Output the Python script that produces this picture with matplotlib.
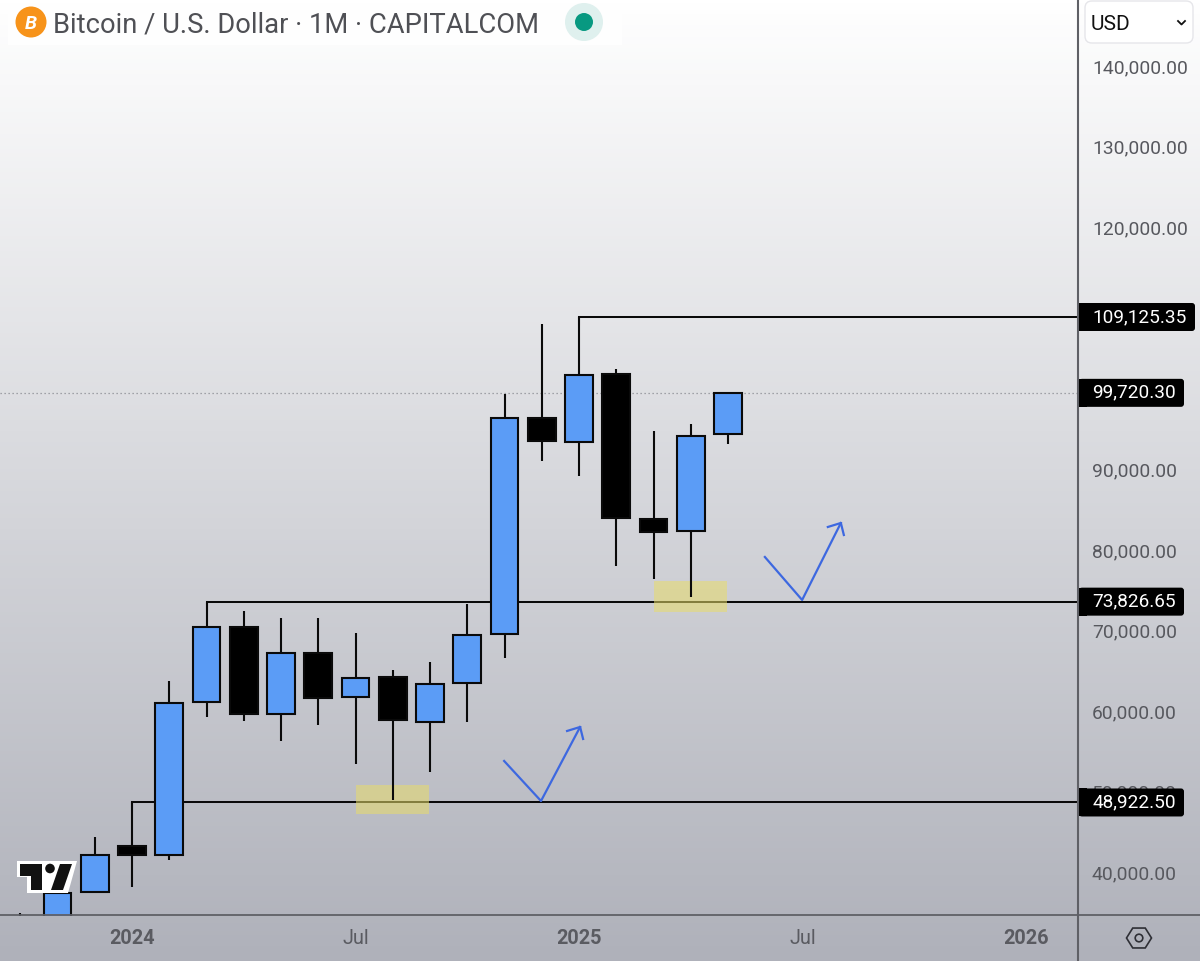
import numpy as np
import matplotlib
matplotlib.use("Agg")
import matplotlib.pyplot as plt
from matplotlib.patches import Circle, Rectangle, FancyBboxPatch, Polygon
from matplotlib.transforms import ScaledTranslation

plt.rcParams['font.family'] = 'Roboto'

# monthly candles, month index 0 = Jan 2024
months = list(range(-3, 17))
opens = [27000, 33000, 37840, 43540, 42425, 61385, 70680, 59950, 67460, 62000, 64480, 58910, 63740, 69810, 96580, 93600, 102030, 84060, 82580, 94600]
highs = [35221, 36500, 44660, 48922, 63990, 73826, 72664, 71800, 71800, 69940, 65350, 66340, 73530, 99550, 108230, 109125, 102650, 94970, 95840, 99720]
lows = [26500, 32000, 37720, 38460, 41810, 59530, 59030, 56550, 58540, 53700, 49240, 52710, 58910, 66840, 91250, 89390, 78240, 76630, 74400, 93360]
closes = [30000, 37720, 42425, 42425, 61263, 70680, 59900, 67460, 61880, 64360, 59110, 63620, 69690, 96580, 93730, 101910, 84190, 82450, 94350, 99720]

price_ticks = [40000, 50000, 60000, 70000, 80000, 90000, 110000, 120000, 130000, 140000]
date_ticks = [0, 6, 12, 18, 24]
date_labels = ['2024', 'Jul', '2025', 'Jul', '2026']
date_bold = [True, False, True, False, True]

# horizontal levels: (first month, price)
level_starts = [0, 2, 12]
level_prices = [48922.50, 73826.65, 109125.35]
last_price = 99720.30
tag_prices = [109125.35, 99720.30, 73826.65, 48922.50]
tag_texts = ['109,125.35', '99,720.30', '73,826.65', '48,922.50']

# yellow zones
zone_months = [7, 15]
zone_low = [47497, 72545]
zone_high = [51093, 76389]

# hand drawn arrows
arrow1_x = [9.99, 10.98, 12.03]
arrow1_y = [54069, 49109, 58285]
head1_x = [11.68, 12.03, 12.11]
head1_y = [57789, 58285, 56797]
arrow2_x = [16.99, 17.99, 19.03]
arrow2_y = [79365, 74033, 83581]
head2_x = [18.68, 19.03, 19.11]
head2_y = [83085, 83581, 82093]

BLUE = '#5b9cf6'
W, H = 1200, 962
fig = plt.figure(figsize=(W / 100, H / 100), dpi=100)

# background gradient
bg = fig.add_axes([0, 0, 1, 1], zorder=0)
bg.axis('off')
top = np.array([255, 255, 255]) / 255
bottom = np.array([175, 177, 186]) / 255
t = np.linspace(0, 1, 256)[:, None, None]
grad = top * (1 - t) + bottom * t
bg.imshow(grad, aspect='auto', extent=[0, 1, 0, 1])

ax = fig.add_axes([0, (H - 917) / H, 1078 / W, 917 / H], zorder=1)
ax.patch.set_alpha(0)
ax.set_xlim(-132 / 37.25, (1078 - 132) / 37.25)
ax.set_ylim(109125 - 599 / 0.008064, 109125 + 318 / 0.008064)

for s in ['top', 'left', 'right', 'bottom']:
    ax.spines[s].set_visible(False)

# levels sit behind the candles
ax.axhline(last_price, color='#8b8d94', lw=0.9, ls=(0, (1, 2.2)), zorder=1)
for start, price in zip(level_starts, level_prices):
    ax.plot([start, 30], [price, price], color='#0a0a0a', lw=1.45, zorder=2)
    ax.plot([start, start], [price - 900, price], color='#0a0a0a', lw=1.45, zorder=2)

for m, lo, hi in zip(zone_months, zone_low, zone_high):
    ax.add_patch(Rectangle((m - 0.98, lo), 1.96, hi - lo, facecolor='#e8dc6a', alpha=0.55, lw=0, zorder=2.5))

for m, o, h, l, c in zip(months, opens, highs, lows, closes):
    ax.plot([m, m], [l, h], color='#0a0a0a', lw=1.5, solid_capstyle='butt', zorder=3)
    col = BLUE if c >= o else '#000000'
    ax.bar(m, abs(c - o), bottom=min(o, c), width=0.74, color=col, edgecolor='#0a0a0a', linewidth=1.5, zorder=4)

for xs, ys in [(arrow1_x, arrow1_y), (head1_x, head1_y), (arrow2_x, arrow2_y), (head2_x, head2_y)]:
    ax.plot(xs, ys, color='#3d68e0', lw=1.6, zorder=6)

# axes
ax.yaxis.tick_right()
ax.set_yticks(price_ticks)
ax.set_yticklabels([f'{p:,.2f}' for p in price_ticks], fontsize=13.9, color='#57585e')
ax.tick_params(axis='y', length=0, pad=10)
up = ScaledTranslation(0, 3 / 100, fig.dpi_scale_trans)
for lab in ax.get_yticklabels():
    lab.set_transform(lab.get_transform() + up)
ax.set_xticks(date_ticks)
ax.set_xticklabels(date_labels, fontsize=14.3, color='#5a5b61')
for lab, b in zip(ax.get_xticklabels(), date_bold):
    if b:
        lab.set_fontweight('bold')
ax.tick_params(axis='x', length=0, pad=9)

# chrome drawn in pixel coordinates
ui = fig.add_axes([0, 0, 1, 1], zorder=2)
ui.set_xlim(0, W)
ui.set_ylim(H, 0)
ui.axis('off')
ui.patch.set_alpha(0)

ui.plot([1078, 1078], [0, H], color='#5f6066', lw=1.5)
ui.plot([0, W], [916, 916], color='#5f6066', lw=1.3)

# price tags on the scale
for price, txt in zip(tag_prices, tag_texts):
    y_px = H - ax.transData.transform((0, price))[1]
    right = 1079 + 11 * len(txt) + 6
    ui.add_patch(FancyBboxPatch((1079, y_px - 14), right - 1079, 28, boxstyle='round,pad=0,rounding_size=3', fc='black', ec='none', zorder=5))
    ui.add_patch(Rectangle((1079, y_px - 14), 8, 28, fc='black', ec='none', zorder=5))
    ui.text(1092.5, y_px - 1, txt, fontsize=13.7, color='white', va='center', ha='left', zorder=6)

# header
ui.add_patch(Rectangle((8, 0), 614, 46, fc='white', ec='none', alpha=0.85))
ui.add_patch(Circle((31, 23), 15.5, fc='#f7931a', ec='none'))
ui.text(31, 24, 'B', color='white', fontsize=14, fontweight='bold', style='italic', ha='center', va='center')
ui.text(53, 24.5, 'Bitcoin / U.S. Dollar · 1M · CAPITALCOM', fontsize=19.7, color='#4f5055', va='center', ha='left')
ui.add_patch(Circle((584, 23), 19, fc='#dff0ee', ec='none'))
ui.add_patch(Circle((584, 23), 9, fc='#089981', ec='none'))

# currency box
ui.add_patch(FancyBboxPatch((1085, 2), 108, 42, boxstyle='round,pad=0,rounding_size=7', fc='white', ec='#e6e6ea', lw=1))
ui.text(1091, 24.5, 'USD', fontsize=15, color='#111111', va='center', ha='left')
ui.plot([1178, 1181.5, 1185], [22, 25.5, 22], color='#111111', lw=1.3)

# settings hexagon
ang = np.deg2rad(np.arange(0, 360, 60))
ui.add_patch(Polygon(np.c_[1139 + 12.5 * np.cos(ang), 939 + 11.5 * np.sin(ang)], closed=True, fc='none', ec='#2e2f35', lw=1.2))
ui.add_patch(Circle((1139, 939), 3.8, fc='none', ec='#2e2f35', lw=1.2))

# tradingview logo
ui.add_patch(Polygon([(17, 862), (77, 862), (68, 894), (27, 894), (27, 878), (17, 878)], closed=True, fc='white', ec='none'))
ui.add_patch(Polygon([(20, 865), (42, 865), (42, 891), (31, 891), (31, 877), (20, 877)], closed=True, fc='#111111', ec='none'))
ui.add_patch(Circle((50, 869.5), 4.8, fc='#111111', ec='none'))
ui.add_patch(Polygon([(60, 865), (72, 865), (63, 891), (51, 891)], closed=True, fc='#111111', ec='none'))

fig.savefig('out.png', dpi=100)
